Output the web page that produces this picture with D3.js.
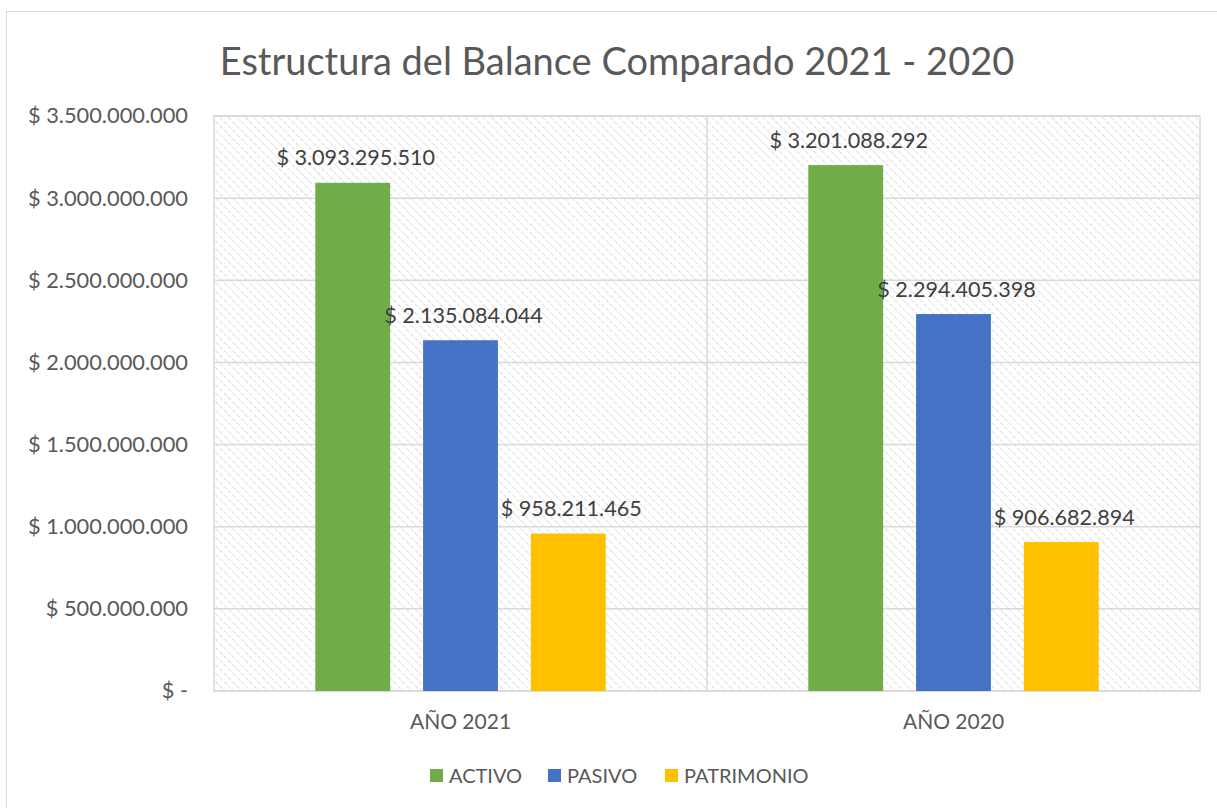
<!DOCTYPE html>
<html><head><meta charset="utf-8">
<script src="https://cdn.jsdelivr.net/npm/d3@7"></script>
<style>body{margin:0;background:#fff;} text{font-family:Lato, "Open Sans", sans-serif;}</style>
</head><body>
<svg id="c" width="1217" height="808"></svg>
<script>
const categories = ["AÑO 2021", "AÑO 2020"];
const seriesNames = ["ACTIVO", "PASIVO", "PATRIMONIO"];
const activo = [3093295510, 3201088292];
const pasivo = [2135084044, 2294405398];
const patrimonio = [958211465, 906682894];
const yTicks = [0, 500000000, 1000000000, 1500000000, 2000000000, 2500000000, 3000000000, 3500000000];
const colors = ["#70AD47", "#4472C4", "#FFC000"];
const title = "Estructura del Balance Comparado 2021 - 2020";

const series = [activo, pasivo, patrimonio];
const svg = d3.select("#c");
const fmt = v => v === 0 ? "$ -" : "$ " + String(v).replace(/\B(?=(\d{3})+(?!\d))/g, ".");

// outer border
svg.append("rect").attr("x", 6.5).attr("y", 11.5).attr("width", 1240).attr("height", 820)
  .attr("fill", "none").attr("stroke", "#d9d9d9");

const L = 214, R = 1200, T = 116, B = 691;
const x0 = d3.scaleBand().domain(categories).range([L, R]).paddingInner(0).paddingOuter(0);
const x1 = d3.scaleBand().domain(seriesNames).range([0, x0.bandwidth()]).paddingInner(0.3056).paddingOuter(0.94);
const y = d3.scaleLinear().domain([0, 3500000000]).range([B, T]);

const defs = svg.append("defs");
const pat = defs.append("pattern").attr("id", "hatch").attr("patternUnits", "userSpaceOnUse")
  .attr("width", 6).attr("height", 6).attr("patternTransform", "rotate(-45)");
pat.append("line").attr("x1", 0).attr("y1", 0).attr("x2", 0).attr("y2", 6)
  .attr("stroke", "#d0d0d0").attr("stroke-width", 1.4).attr("stroke-dasharray", "2.5,1.5");

svg.append("rect").attr("x", L).attr("y", T).attr("width", R - L).attr("height", B - T)
  .attr("fill", "url(#hatch)").attr("stroke", "#d9d9d9").attr("stroke-width", 1.5);

// gridlines
svg.append("g").selectAll("line").data(yTicks).join("line")
  .attr("x1", L).attr("x2", R).attr("y1", d => y(d)).attr("y2", d => y(d))
  .attr("stroke", "#d9d9d9").attr("stroke-width", 1.5);
svg.append("line").attr("x1", x0(categories[1])).attr("x2", x0(categories[1]))
  .attr("y1", T).attr("y2", B).attr("stroke", "#d9d9d9").attr("stroke-width", 1.5);

// y axis labels
const yAxis = d3.axisLeft(y).tickValues(yTicks).tickFormat(fmt).tickSize(0).tickPadding(26);
const ya = svg.append("g").attr("transform", `translate(${L},0)`).call(yAxis);
ya.select(".domain").remove();
ya.selectAll("text").attr("font-size", 21.8).attr("fill", "#595959").style("font-family", "Lato, sans-serif");

// x axis labels
const xAxis = d3.axisBottom(x0).tickSize(0).tickPadding(23);
const xa = svg.append("g").attr("transform", `translate(0,${B})`).call(xAxis);
xa.select(".domain").remove();
xa.selectAll("text").attr("font-size", 21).attr("fill", "#595959").style("font-family", "Lato, sans-serif");

// bars
const g = svg.append("g");
categories.forEach((c, ci) => {
  seriesNames.forEach((s, si) => {
    const v = series[si][ci];
    g.append("rect").attr("x", x0(c) + x1(s)).attr("y", y(v))
      .attr("width", x1.bandwidth()).attr("height", B - y(v)).attr("fill", colors[si]);
    g.append("text").attr("x", x0(c) + x1(s) + x1.bandwidth() / 2 + 3)
      .attr("y", y(v) - 25).attr("dy", "0.35em").attr("text-anchor", "middle")
      .attr("font-size", 21.6).attr("fill", "#404040").text(fmt(v));
  });
});

// title
svg.append("text").attr("x", 617).attr("y", 62).attr("dy", "0.35em").attr("text-anchor", "middle")
  .attr("font-size", 38).attr("fill", "#595959").text(title);

// legend
const legX = [430, 548, 665];
const leg = svg.append("g");
seriesNames.forEach((s, i) => {
  leg.append("rect").attr("x", legX[i]).attr("y", 769).attr("width", 13).attr("height", 13).attr("fill", colors[i]);
  leg.append("text").attr("x", legX[i] + 19).attr("y", 775.5).attr("dy", "0.35em")
    .attr("font-size", 20).attr("fill", "#595959").text(s);
});
</script>
</body></html>
